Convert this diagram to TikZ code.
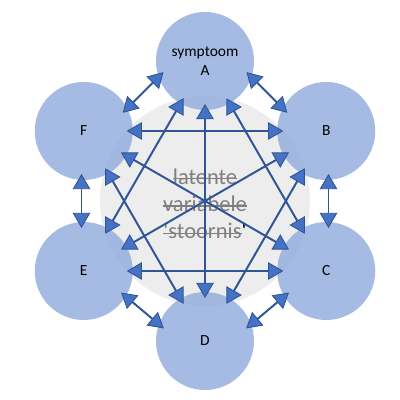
\documentclass[tikz,border=0pt]{standalone}
\usepackage{fontspec}
\setmainfont{Carlito}
\usetikzlibrary{arrows.meta}

\definecolor{symfill}{HTML}{8FAADC}
\definecolor{linkblue}{HTML}{2F5597}
\definecolor{tipblue}{HTML}{4472C4}
\definecolor{coregray}{HTML}{EDEDED}
\definecolor{latgray}{HTML}{7F7F7F}

% struck-through word
\newcommand\strk[1]{\setbox0=\hbox{#1}\rlap{\raisebox{0.22em}{\rule{\wd0}{0.06em}}}\box0}

\begin{document}
\begin{tikzpicture}[
  >={Triangle[length=3.8mm,width=4.4mm,fill=tipblue,line width=0.6pt]},
  symptom/.style={circle,fill=symfill,fill opacity=0.8,text opacity=1,
    minimum size=2.45cm,outer sep=-0.15cm,align=center,
    font=\fontsize{11}{13}\selectfont},
  link/.style={<->,draw=linkblue,line width=1.4pt}
]
  \useasboundingbox (-5.125,-4.975) rectangle (4.875,5.025);

  % latent variable in the middle
  \node[circle,fill=coregray,minimum size=5.25cm] (core) at (0,0) {};

  % the six symptoms
  \node[symptom] (A) at (90:3.5) {symptoom\\A};
  \node[symptom] (B) at (30:3.5) {B};
  \node[symptom] (C) at (-30:3.5) {C};
  \node[symptom] (D) at (-90:3.5) {D};
  \node[symptom] (E) at (210:3.5) {E};
  \node[symptom] (F) at (150:3.5) {F};

  \node[align=center,text=latgray,font=\fontsize{16}{19.5}\selectfont]
    (latent) at (0,-0.07)
    {\strk{latente}\\\strk{variabele}\\\strk{\textquotesingle stoornis}{\color{black}\textquotesingle}};

  % neighbours
  \draw[link] (A.-15) -- (B.155);
  \draw[link] (B.-87) -- (C.87);
  \draw[link] (C.210) -- (D.17);
  \draw[link] (D.163) -- (E.-30);
  \draw[link] (E.93) -- (F.-93);
  \draw[link] (F.25) -- (A.195);

  % across the hexagon
  \draw[link] (A) -- (C);
  \draw[link] (A) -- (D);
  \draw[link] (A) -- (E);
  \draw[link] (B) -- (D);
  \draw[link] (B) -- (E);
  \draw[link] (B) -- (F);
  \draw[link] (C) -- (E);
  \draw[link] (C) -- (F);
  \draw[link] (D) -- (F);
\end{tikzpicture}
\end{document}
